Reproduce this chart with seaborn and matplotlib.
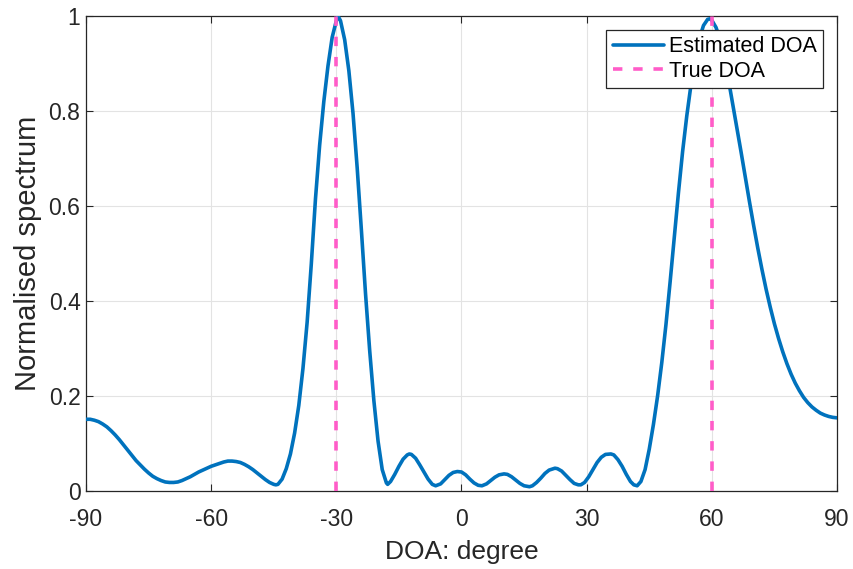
import numpy as np
import pandas as pd
import matplotlib
matplotlib.use("Agg")
import matplotlib.pyplot as plt
import seaborn as sns

# ---- data ----
doa_deg = [-90, -89, -88, -87, -86, -85, -84, -83, -82, -81, -80, -79, -78, -77, -76,
           -75, -74, -73, -72, -71, -70, -69, -68, -67, -66, -65, -64, -63, -62, -61,
           -60, -59, -58, -57, -56, -55, -54, -53, -52, -51, -50, -49, -48, -47, -46,
           -45, -44.5, -44, -43, -42, -41, -40, -39, -38, -37, -36, -35,
           -34, -33, -32, -31, -30, -29.6, -29, -28, -27, -26, -25, -24, -23, -22, -21,
           -20, -19, -18, -17.7, -17, -16, -15, -14, -13, -12.5, -12, -11, -10, -9, -8,
           -7, -6.2, -5, -4, -3, -2, -1, 0, 1, 2, 3, 4, 4.9, 6, 7, 8, 9, 10.2, 11, 12,
           13, 14, 15, 16.3, 17, 18, 19, 20, 21, 22.4, 23, 24, 25, 26, 27, 28, 28.6,
           29.5, 30.5, 31.5, 32.5, 33.5, 34.5, 35.8, 36.5, 37.5, 38.5, 39.5, 40.5, 41.3,
           42.1, 43, 44, 45, 46, 47, 48, 49, 50, 51, 52, 53, 54, 55, 56, 57, 58, 59,
           59.5, 60, 61, 62, 63, 64, 65, 66, 67, 68, 69, 70, 71, 72, 73, 74, 75, 76,
           77, 78, 79, 80, 81, 82, 83, 84, 85, 86, 87, 88, 89, 90]
spectrum = [0.151, 0.151, 0.149, 0.146, 0.141, 0.135, 0.127, 0.118, 0.108, 0.097, 0.086,
            0.075, 0.064, 0.055, 0.046, 0.038, 0.031, 0.026, 0.022, 0.019, 0.018, 0.018,
            0.019, 0.022, 0.026, 0.030, 0.035, 0.040, 0.044, 0.048, 0.052, 0.055, 0.058,
            0.061, 0.063, 0.063, 0.062, 0.060, 0.056, 0.051, 0.045, 0.038, 0.031, 0.024,
            0.018, 0.014, 0.013, 0.014, 0.025, 0.047, 0.078, 0.122, 0.180, 0.258, 0.355,
            0.478, 0.615, 0.728, 0.820, 0.895, 0.955, 0.990, 1.000, 0.990,
            0.950, 0.885, 0.795, 0.680, 0.550, 0.415, 0.295, 0.190, 0.105, 0.045, 0.017,
            0.014, 0.020, 0.035, 0.052, 0.067, 0.076, 0.078, 0.077, 0.069, 0.055, 0.040,
            0.025, 0.014, 0.011, 0.015, 0.024, 0.033, 0.039, 0.041, 0.040, 0.034, 0.025,
            0.017, 0.012, 0.011, 0.015, 0.022, 0.029, 0.034, 0.036, 0.035, 0.030, 0.023,
            0.016, 0.011, 0.009, 0.011, 0.018, 0.027, 0.037, 0.044, 0.048, 0.047, 0.042,
            0.033, 0.024, 0.016, 0.013, 0.013, 0.018, 0.030, 0.045, 0.060, 0.071, 0.077,
            0.078, 0.076, 0.066, 0.052, 0.035, 0.020, 0.013, 0.011, 0.020, 0.045, 0.088,
            0.140, 0.200, 0.270, 0.350, 0.440, 0.535, 0.628, 0.715, 0.790, 0.855, 0.910,
            0.952, 0.980, 0.993, 0.994, 0.991, 0.976, 0.950, 0.912, 0.865, 0.815, 0.765,
            0.714, 0.662, 0.610, 0.560, 0.512, 0.467, 0.425, 0.387, 0.352, 0.321, 0.293,
            0.268, 0.246, 0.227, 0.211, 0.197, 0.186, 0.177, 0.170, 0.164, 0.160, 0.157,
            0.155, 0.154]
true_doa = [-30, 60]
x_ticks = [-90, -60, -30, 0, 30, 60, 90]
y_ticks = [0, 0.2, 0.4, 0.6, 0.8, 1]
y_tick_labels = ["0", "0.2", "0.4", "0.6", "0.8", "1"]

sns.set_theme(style="whitegrid")
plt.rcParams["font.family"] = ["Liberation Sans", "DejaVu Sans"]
plt.rcParams["axes.unicode_minus"] = False

fig = plt.figure(figsize=(8.54, 5.69), dpi=100)
ax = fig.add_axes([86 / 854, 1 - 491 / 569, (837 - 86) / 854, (491 - 16) / 569])

df = pd.DataFrame({"doa": doa_deg, "spec": spectrum})
sns.lineplot(data=df, x="doa", y="spec", ax=ax, color="#0072BD", linewidth=2.6,
             label="Estimated DOA", zorder=3, estimator=None, sort=False)
for i, d in enumerate(true_doa):
    sns.lineplot(x=[d, d], y=[0, 1], ax=ax, color="#FF5CC8", linewidth=2.6,
                 linestyle=(0, (2.6, 3.0)), label="True DOA" if i == 0 else None,
                 zorder=4, estimator=None, sort=False)

ax.set_xlim(-90, 90)
ax.set_ylim(0, 1)
ax.set_xticks(x_ticks)
ax.set_xticklabels([str(t) for t in x_ticks])
ax.set_yticks(y_ticks)
ax.set_yticklabels(y_tick_labels)
ax.set_xlabel("DOA: degree", fontsize=19, color="#262626", labelpad=7)
ax.set_ylabel("Normalised spectrum", fontsize=21, color="#262626", labelpad=5)
ax.tick_params(axis="both", direction="in", length=5, width=0.8, colors="#262626",
               labelsize=16.5, top=True, right=True, bottom=True, left=True)
ax.tick_params(axis="x", pad=12)
ax.tick_params(axis="y", pad=4)
ax.grid(True, color="#E3E3E3", linewidth=0.8)
ax.set_facecolor("white")
for s in ax.spines.values():
    s.set_color("#262626")
    s.set_linewidth(0.9)
    s.set_visible(True)

leg = ax.legend(loc="upper right", fontsize=15.5, frameon=True, fancybox=False,
                framealpha=1, edgecolor="#262626", handlelength=2.4,
                borderpad=0.3, labelspacing=0.15, handletextpad=0.2,
                borderaxespad=0, bbox_to_anchor=(1 - 14 / 751, 1 - 14 / 475))
leg.get_frame().set_linewidth(0.9)
for t in leg.get_texts():
    t.set_color("black")

fig.savefig("out.png", dpi=100)
